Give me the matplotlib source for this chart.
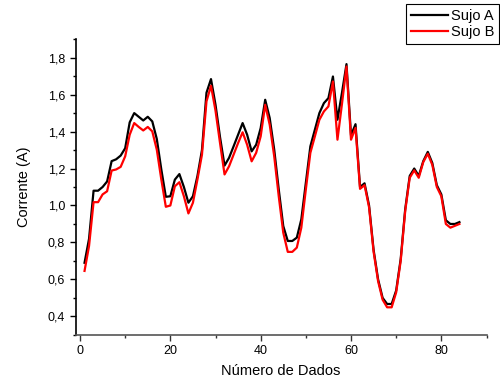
import matplotlib
matplotlib.use("Agg")
import matplotlib.pyplot as plt
from matplotlib.ticker import MultipleLocator, FuncFormatter

plt.rcParams['font.family'] = ['Liberation Sans', 'DejaVu Sans']

# dados (x = 1..84)
n_dados = list(range(1, 85))

sujo_a = [0.69, 0.82, 1.08, 1.08, 1.10, 1.13, 1.24, 1.25, 1.27, 1.31,
          1.45, 1.50, 1.48, 1.46, 1.48, 1.455, 1.36, 1.195, 1.047, 1.05,
          1.14, 1.17, 1.10, 1.015, 1.05, 1.16, 1.30, 1.61, 1.684, 1.545,
          1.37, 1.216, 1.258, 1.32, 1.383, 1.446, 1.383, 1.293, 1.329, 1.419,
          1.572, 1.473, 1.302, 1.087, 0.889, 0.808, 0.808, 0.826, 0.925, 1.123,
          1.32, 1.41, 1.50, 1.554, 1.581, 1.698, 1.464, 1.61, 1.765, 1.38,
          1.44, 1.10, 1.12, 1.00, 0.76, 0.60, 0.50, 0.467, 0.467, 0.54,
          0.71, 0.98, 1.16, 1.20, 1.16, 1.24, 1.29, 1.23, 1.11, 1.06,
          0.92, 0.90, 0.90, 0.91]

sujo_b = [0.646, 0.781, 1.018, 1.018, 1.06, 1.077, 1.189, 1.195, 1.209, 1.266,
          1.383, 1.446, 1.425, 1.406, 1.425, 1.401, 1.302, 1.141, 0.993, 1.0,
          1.104, 1.126, 1.05, 0.957, 1.015, 1.141, 1.275, 1.563, 1.648, 1.513,
          1.338, 1.168, 1.212, 1.275, 1.338, 1.396, 1.329, 1.239, 1.285, 1.374,
          1.545, 1.437, 1.266, 1.05, 0.853, 0.749, 0.749, 0.772, 0.88, 1.087,
          1.285, 1.374, 1.464, 1.509, 1.536, 1.671, 1.356, 1.55, 1.752, 1.356,
          1.42, 1.09, 1.11, 0.99, 0.75, 0.59, 0.49, 0.449, 0.449, 0.53,
          0.70, 0.97, 1.15, 1.19, 1.15, 1.235, 1.28, 1.22, 1.10, 1.05,
          0.90, 0.88, 0.89, 0.90]

fig = plt.figure(figsize=(5, 3.84), dpi=100)
ax = fig.add_axes([0.151, 0.128, 0.822, 0.77])

ax.plot(n_dados, sujo_a, color="black", lw=1.6, label="Sujo A")
ax.plot(n_dados, sujo_b, color="red", lw=1.6, label="Sujo B")

ax.set_xlim(-1, 90)
ax.set_ylim(0.3, 1.9)

ax.xaxis.set_major_locator(MultipleLocator(20))
ax.xaxis.set_minor_locator(MultipleLocator(10))
ax.yaxis.set_major_locator(MultipleLocator(0.2))
ax.yaxis.set_minor_locator(MultipleLocator(0.1))
ax.yaxis.set_major_formatter(FuncFormatter(lambda v, p: f"{v:.1f}".replace(".", ",")))

ax.spines["top"].set_visible(False)
ax.spines["right"].set_visible(False)
ax.spines["left"].set_linewidth(1.2)
ax.spines["bottom"].set_linewidth(1.2)
ax.spines["bottom"].set_color("#555555")

ax.tick_params(which="major", direction="out", length=4, width=1.0, labelsize=9)
ax.tick_params(which="minor", direction="out", length=2.5, width=1.0)
ax.tick_params(axis="x", which="both", color="#333333")

ax.set_xlabel("Número de Dados", fontsize=10.5, labelpad=5)
ax.set_ylabel("Corrente (A)", fontsize=10.5, labelpad=12)

leg = ax.legend(loc="upper right", bbox_to_anchor=(0.998, 0.99),
                bbox_transform=fig.transFigure, fontsize=10.5, frameon=True,
                fancybox=False, edgecolor="black", framealpha=1,
                handlelength=2.5, borderpad=0.35, labelspacing=0.15,
                handletextpad=0.2, borderaxespad=0)
leg.get_frame().set_linewidth(0.8)

fig.savefig("out.png", dpi=100)
